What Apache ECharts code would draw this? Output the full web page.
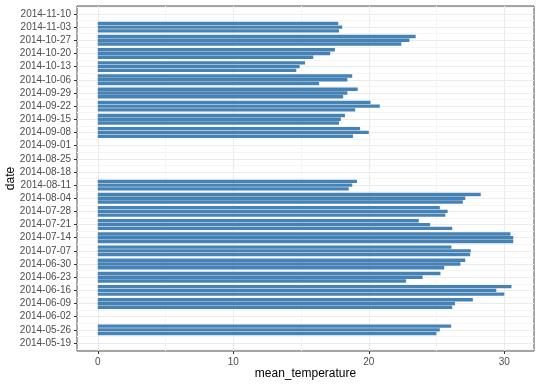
<!DOCTYPE html>
<html><head><meta charset="utf-8">
<script src="https://cdn.jsdelivr.net/npm/echarts@6/dist/echarts.min.js"></script>
<style>html,body{margin:0;padding:0;background:#fff}#c{width:540px;height:386px}</style>
</head><body><div id="c"></div>
<script>
const dates = [
  '2014-05-24','2014-05-26','2014-05-28',
  '2014-06-07','2014-06-09','2014-06-11',
  '2014-06-14','2014-06-16','2014-06-18',
  '2014-06-21','2014-06-23','2014-06-25',
  '2014-06-28','2014-06-30','2014-07-02',
  '2014-07-05','2014-07-07','2014-07-09',
  '2014-07-12','2014-07-14','2014-07-16',
  '2014-07-19','2014-07-21','2014-07-23',
  '2014-07-26','2014-07-28','2014-07-30',
  '2014-08-02','2014-08-04','2014-08-06',
  '2014-08-09','2014-08-11','2014-08-13',
  '2014-09-06','2014-09-08','2014-09-10',
  '2014-09-13','2014-09-15','2014-09-17',
  '2014-09-20','2014-09-22','2014-09-24',
  '2014-09-27','2014-09-29','2014-10-01',
  '2014-10-04','2014-10-06','2014-10-08',
  '2014-10-11','2014-10-13','2014-10-15',
  '2014-10-18','2014-10-20','2014-10-22',
  '2014-10-25','2014-10-27','2014-10-29',
  '2014-11-01','2014-11-03','2014-11-05'
];
const meanTemperature = [
  24.99, 25.24, 26.08,
  26.16, 26.36, 27.68,
  30.00, 29.41, 30.53,
  22.75, 23.97, 25.29,
  25.57, 26.76, 27.12,
  27.48, 27.53, 26.10,
  30.66, 30.66, 30.46,
  26.16, 24.53, 23.69,
  25.65, 25.82, 25.24,
  26.94, 27.12, 28.26,
  18.52, 18.78, 19.13,
  18.83, 20.00, 19.36,
  17.80, 17.94, 18.24,
  19.00, 20.81, 20.13,
  18.11, 18.42, 19.18,
  16.33, 18.42, 18.78,
  14.65, 14.90, 15.30,
  15.90, 17.15, 17.50,
  22.40, 23.00, 23.46,
  17.80, 18.04, 17.75
];
const dateTicks = ['2014-05-19','2014-05-26','2014-06-02','2014-06-09','2014-06-16','2014-06-23','2014-06-30',
  '2014-07-07','2014-07-14','2014-07-21','2014-07-28','2014-08-04','2014-08-11','2014-08-18','2014-08-25',
  '2014-09-01','2014-09-08','2014-09-15','2014-09-22','2014-09-29','2014-10-06','2014-10-13','2014-10-20',
  '2014-10-27','2014-11-03','2014-11-10'];
const tempTicks = [0, 10, 20, 30];
const tempMinorTicks = [5, 15, 25];

const DAY = 86400000;
function ts(s){ const p = s.split('-'); return Date.UTC(+p[0], +p[1]-1, +p[2]); }
const origin = ts(dateTicks[0]);
function dayNum(s){ return Math.round((ts(s) - origin) / DAY); }
const dateVals = dates.map(dayNum);
const tickVals = dateTicks.map(dayNum);
const minorVals = [tickVals[0] - 3.5].concat(tickVals.map(v => v + 3.5));
const labelMap = {};
tickVals.forEach((v, i) => { labelMap[v] = dateTicks[i]; });

// ggplot-like expansion (5%) with bar width 1.8 days
const BARW = 1.8;
const first = Math.min(...dateVals), last = Math.max(...dateVals);
const span = (last - first) + BARW;
const yMin = first - BARW/2 - 0.05*span;
const yMax = last + BARW/2 + 0.05*span;
const tMax = Math.max(...meanTemperature);
const xMin = -0.05*tMax, xMax = tMax*1.05;

const font = 'Liberation Sans, Arial, sans-serif';
const chart = echarts.init(document.getElementById('c'), null, {renderer: 'canvas'});
chart.setOption({
  animation: false,
  backgroundColor: '#ffffff',
  grid: {left: 77, right: 6, top: 6, bottom: 35, containLabel: false, outerBoundsMode: 'none',
    show: true, borderColor: '#4d4d4d', borderWidth: 1, backgroundColor: '#ffffff'},
  xAxis: [{
    type: 'value', min: xMin, max: xMax, position: 'bottom',
    axisLine: {show: false, onZero: false},
    axisTick: {show: true, length: 3, lineStyle: {color: '#333'}, customValues: tempTicks},
    axisLabel: {customValues: tempTicks, color: '#4d4d4d', fontSize: 10, fontFamily: font, margin: 6},
    splitLine: {show: true, lineStyle: {color: '#ebebeb', width: 1}},
    name: 'mean_temperature', nameLocation: 'middle', nameGap: 17, nameMoveOverlap: false,
    nameTextStyle: {color: '#000', fontSize: 12, fontFamily: font}
  }, {
    type: 'value', min: xMin, max: xMax, position: 'bottom',
    axisLine: {show: false, onZero: false}, axisLabel: {show: false},
    axisTick: {show: false, customValues: tempMinorTicks},
    splitLine: {show: true, lineStyle: {color: '#f5f5f5', width: 1}}
  }],
  yAxis: [{
    type: 'value', min: yMin, max: yMax, position: 'left',
    axisLine: {show: false, onZero: false},
    axisTick: {show: true, length: 3, lineStyle: {color: '#333'}, customValues: tickVals},
    axisLabel: {customValues: tickVals, color: '#4d4d4d', fontSize: 10, fontFamily: font, margin: 6,
      formatter: v => labelMap[Math.round(v)] || ''},
    splitLine: {show: true, lineStyle: {color: '#ebebeb', width: 1}},
    name: 'date', nameLocation: 'middle', nameGap: 60, nameRotate: 90, nameMoveOverlap: false,
    nameTextStyle: {color: '#000', fontSize: 12, fontFamily: font}
  }, {
    type: 'value', min: yMin, max: yMax, position: 'left',
    axisLine: {show: false, onZero: false}, axisLabel: {show: false},
    axisTick: {show: false, customValues: minorVals},
    splitLine: {show: true, lineStyle: {color: '#f5f5f5', width: 1}}
  }],
  series: [{
    type: 'custom', xAxisIndex: 0, yAxisIndex: 0,
    data: dates.map((d, i) => [meanTemperature[i], dateVals[i]]),
    encode: {x: 0, y: 1},
    silent: true,
    renderItem: function (params, api) {
      const p0 = api.coord([0, api.value(1)]);
      const p1 = api.coord([api.value(0), api.value(1)]);
      const h = api.size([0, BARW])[1];
      return {type: 'rect', shape: {x: p0[0], y: p1[1] - h/2, width: p1[0] - p0[0], height: h},
        style: {fill: '#4682b4'}};
    }
  }]
});
</script></body></html>
